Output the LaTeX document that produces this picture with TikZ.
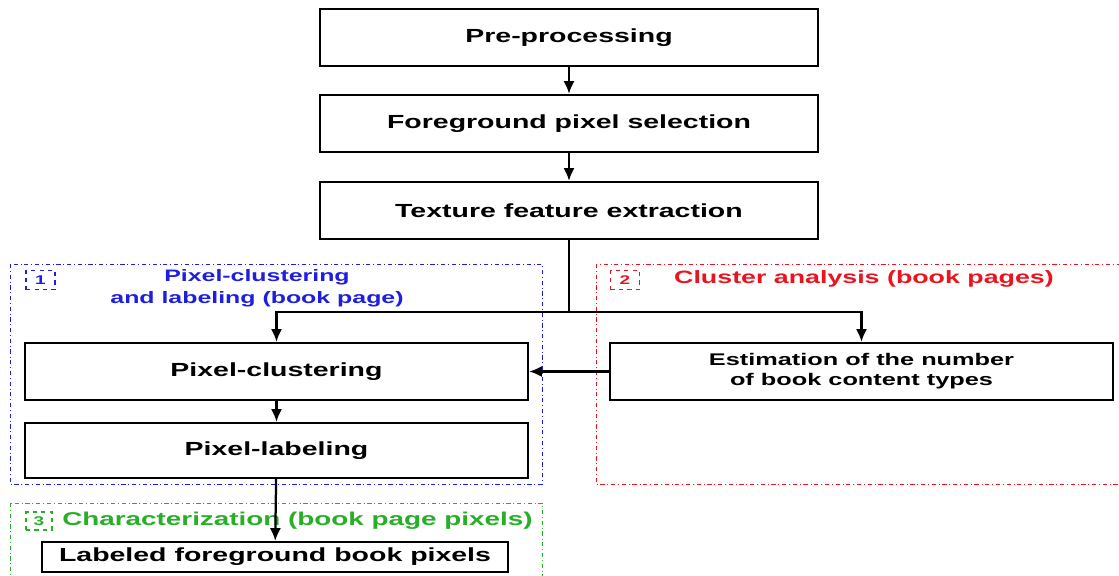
\documentclass[tikz,border=0pt]{standalone}
\usepackage{fontspec}
\setmainfont{Liberation Sans}[FakeStretch=1.5]
\usetikzlibrary{arrows.meta}
\definecolor{grpblue}{RGB}{30,30,225}
\definecolor{grpred}{RGB}{235,20,30}
\definecolor{grpgreen}{RGB}{40,175,40}
\tikzset{
  stage/.style={draw,line width=1.6pt,minimum width=12.45cm,minimum height=1.425cm,inner sep=0pt,font=\fontsize{13.5}{16}\selectfont\bfseries},
  flow/.style={line width=1.6pt,-{Latex[length=3.2mm,width=2.8mm]}},
  group/.style={line width=.6pt,dash dot},
  tag/.style={draw,dashed,line width=1.1pt,minimum width=.72cm,minimum height=.48cm,inner sep=0pt,font=\fontsize{9}{10}\selectfont\bfseries},
  title/.style={align=center,font=\fontsize{12.5}{15.5}\selectfont\bfseries}
}
\begin{document}
\begin{tikzpicture}[x=.025cm,y=-.025cm]
\useasboundingbox (0,0) rectangle (1119,576);
% dash-dot groups
\draw[group,grpblue](10,264) rectangle (542,484);
\draw[group,grpred](596,264) rectangle (1130,484);
\draw[group,grpgreen](10,503) rectangle (542,590);
\node[tag,grpblue] (t1) at (40.5,280) {1};
\node[tag,grpred] (t2) at (625,280) {2};
\node[tag,grpgreen,minimum width=.65cm,minimum height=.45cm] (t3) at (39,521) {3};
\node[title,grpblue,font=\fontsize{11.8}{15.6}\selectfont\bfseries] (ttl1) at (257,288) {Pixel-clustering\\and labeling (book page)};
\node[title,grpred,font=\fontsize{12.7}{15}\selectfont\bfseries] (ttl2) at (864,279) {Cluster analysis (book pages)};
\node[title,grpgreen,font=\fontsize{13.2}{15}\selectfont\bfseries,anchor=west,inner sep=0pt] (ttl3) at (62,521) {Characterization (book page pixels)};
% stages
\node[stage] (pre) at (569,37.5) {Pre-processing};
\node[stage] (fgsel) at (569,123.5) {Foreground pixel selection};
\node[stage] (texture) at (569,210.5) {Texture feature extraction};
\node[stage,minimum width=12.575cm] (pixclus) at (276.5,371.5) {Pixel-clustering};
\node[stage,minimum width=12.575cm,minimum height=1.375cm] (pixlab) at (276.5,450.5) {Pixel-labeling};
\node[stage,minimum width=12.575cm,align=center,font=\fontsize{12}{14.2}\selectfont\bfseries] (estim) at (861.5,371.5) {Estimation of the number\\of book content types};
\node[stage,minimum width=11.65cm,minimum height=.75cm] (labeled) at (275,557) {Labeled foreground book pixels};
\coordinate (split) at (569,312);
% arrows
\draw[flow] (pre) -- (fgsel);
\draw[flow] (fgsel) -- (texture);
\draw[line width=1.6pt] (texture) -- (split);
\draw[flow] (split) -| (pixclus);
\draw[flow] (split) -| (estim);
\draw[flow] (estim) -- (pixclus);
\draw[flow] (pixclus) -- (pixlab);
\draw[flow] (pixlab) -- (labeled);
\end{tikzpicture}
\end{document}
